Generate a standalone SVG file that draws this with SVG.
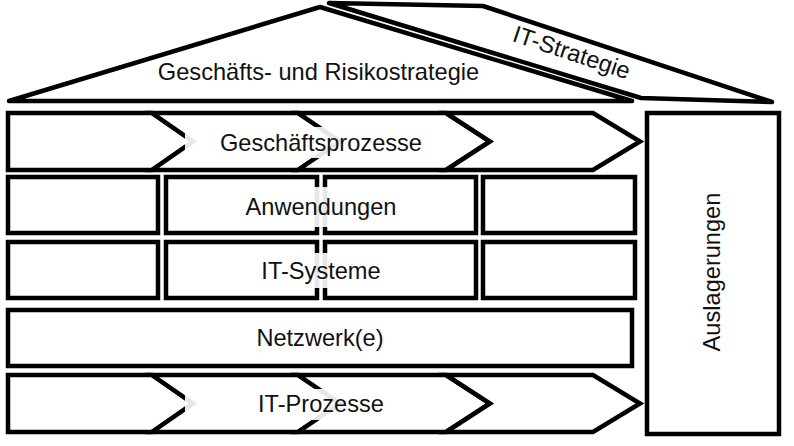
<svg xmlns="http://www.w3.org/2000/svg" width="794" height="446" viewBox="0 0 794 446">
<style>
.s{fill:#fff;stroke:#000;stroke-width:4.5;stroke-linejoin:miter;stroke-miterlimit:10}
.r{fill:#fff;stroke:#000;stroke-width:4.5;stroke-linejoin:round}
.t{font-family:"Liberation Sans",Arial,sans-serif;font-size:23.6px;fill:#111;text-anchor:middle}
.bg{fill:#fff;fill-opacity:0.9;stroke:none}
</style>
<rect width="794" height="446" fill="#fff"/>
<g id="roof">
<polygon class="r" points="9,101 320,7 632,101"/>
<text class="t" x="318.5" y="80">Geschäfts- und Risikostrategie</text>
</g>
<g id="it-strategie">
<polygon class="r" points="329,3 483,6 772,102 641,98"/>
<text class="t" x="569" y="60" transform="rotate(18.5 569 60)">IT-Strategie</text>
</g>
<g id="geschaeftsprozesse">
<path class="s" d="M8,113 L152,113 L193,141.5 L152,170 L8,170 Z"/>
<path class="s" d="M152,113 L298,113 L340,141.5 L298,170 L152,170 L193,141.5 Z"/>
<path class="s" d="M298,113 L446,113 L490,141.5 L446,170 L298,170 L340,141.5 Z"/>
<path class="s" d="M446,113 L593,113 L640,141.5 L593,170 L446,170 L490,141.5 Z"/>
<rect class="bg" x="185" y="127" width="272" height="31"/>
<text class="t" x="321" y="151">Geschäftsprozesse</text>
</g>
<g id="anwendungen">
<rect class="s" x="8" y="177" width="150" height="56"/>
<rect class="s" x="166" y="177" width="151" height="56"/>
<rect class="s" x="325" y="177" width="151" height="56"/>
<rect class="s" x="483" y="177" width="152" height="56"/>
<rect class="bg" x="232" y="187" width="178" height="40"/>
<text class="t" x="321" y="215">Anwendungen</text>
</g>
<g id="it-systeme">
<rect class="s" x="8" y="242" width="150" height="56"/>
<rect class="s" x="166" y="242" width="151" height="56"/>
<rect class="s" x="325" y="242" width="151" height="56"/>
<rect class="s" x="483" y="242" width="152" height="56"/>
<rect class="bg" x="248" y="253" width="146" height="35"/>
<text class="t" x="321" y="279">IT-Systeme</text>
</g>
<g id="netzwerke">
<rect class="s" x="8" y="310" width="624" height="56"/>
<text class="t" x="320" y="346">Netzwerk(e)</text>
</g>
<g id="it-prozesse">
<path class="s" d="M8,375 L152,375 L193,403.5 L152,432 L8,432 Z"/>
<path class="s" d="M152,375 L298,375 L340,403.5 L298,432 L152,432 L193,403.5 Z"/>
<path class="s" d="M298,375 L446,375 L490,403.5 L446,432 L298,432 L340,403.5 Z"/>
<path class="s" d="M446,375 L593,375 L640,403.5 L593,432 L446,432 L490,403.5 Z"/>
<rect class="bg" x="185" y="389" width="272" height="31"/>
<text class="t" x="321" y="412">IT-Prozesse</text>
</g>
<g id="auslagerungen">
<rect class="s" x="647" y="113" width="132" height="321"/>
<text class="t" x="720" y="272" transform="rotate(-90 720 272)">Auslagerungen</text>
</g>
</svg>
